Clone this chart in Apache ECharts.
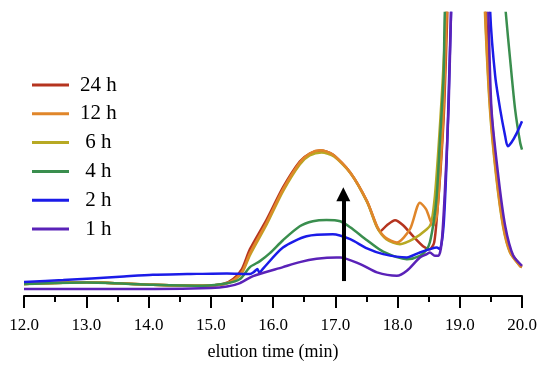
<!DOCTYPE html>
<html>
<head>
<meta charset="utf-8">
<script src="https://cdn.jsdelivr.net/npm/echarts@6/dist/echarts.min.js"></script>
<style>
html,body{margin:0;padding:0;background:#fff;}
#chart{width:550px;height:366px;}
</style>
</head>
<body>
<div id="chart"></div>
<script>
// x: elution time (min), y: detector response (arbitrary units)
const seriesNames = ['24 h', '12 h', '6 h', '4 h', '2 h', '1 h'];
const xTicks = ['12.0','13.0','14.0','15.0','16.0','17.0','18.0','19.0','20.0'];

const h24 = [[12.0,12],[13.01,13.7],[13.54,12.7],[14.07,11.3],[14.88,10.3],[15.20,12],[15.36,17],[15.50,27],[15.63,47],[15.90,77],[16.16,109],[16.43,135],[16.59,143],[16.76,146],[16.96,142],[17.24,124],[17.51,95],[17.66,71],[17.72,65],[17.83,71],[17.96,76],[18.09,71],[18.25,60],[18.41,50],[18.52,47],[18.59,54],[18.64,85],[18.69,125],[18.75,190],[18.80,284],[18.86,400],[19.1,480],[19.37,400],[19.425,284],[19.505,187],[19.605,120],[19.715,70],[19.825,44],[19.97,31],[20.0,30]];
const h12 = [[12.0,12],[13.01,13.7],[13.54,12.7],[14.07,11.3],[14.88,10.3],[15.22,12],[15.38,16.5],[15.51,25],[15.63,43],[15.90,74],[16.16,107],[16.43,134],[16.59,143],[16.76,146.3],[16.96,142],[17.24,124],[17.51,95.3],[17.67,70.3],[17.80,59],[17.99,53.7],[18.20,67],[18.36,93.7],[18.46,87],[18.52,77],[18.57,70.3],[18.63,80],[18.68,120],[18.74,187],[18.79,284],[18.85,400],[19.1,480],[19.35,400],[19.41,284],[19.49,187],[19.59,120],[19.70,70],[19.81,44],[19.97,30],[20.0,29]];
const h6 = [[12.0,12],[13.01,13.7],[13.54,12.7],[14.07,11.3],[14.88,10.3],[15.22,12],[15.38,16],[15.51,24],[15.63,41],[15.90,72],[16.16,105],[16.43,132],[16.59,141],[16.78,144],[16.98,140],[17.26,122],[17.52,93],[17.67,69],[17.82,57],[18.04,52],[18.25,57],[18.47,67],[18.54,73],[18.60,100],[18.66,150],[18.72,210],[18.78,284],[18.84,400],[19.1,480],[19.34,400],[19.405,284],[19.485,187],[19.585,120],[19.695,70],[19.805,44],[19.97,30],[20.0,29]];
const h4 = [[12.0,12],[13.01,13.5],[14.07,11.3],[14.88,10.3],[15.26,12.7],[15.47,17],[15.63,29],[15.79,35],[15.95,43],[16.16,56],[16.43,70],[16.64,75],[16.86,76.3],[17.08,75],[17.24,69],[17.51,56],[17.77,44.5],[18.15,37],[18.36,40.3],[18.47,47],[18.52,54],[18.58,74],[18.63,100.3],[18.68,154],[18.74,220.3],[18.76,284],[18.85,400],[19.2,500],[19.6,400],[19.74,284],[19.81,237],[19.89,187],[19.97,154],[20.0,147]];
const h2 = [[12.0,14],[12.63,16],[13.54,19.3],[14.07,21.3],[14.62,22],[15.26,22.7],[15.63,22],[15.70,24.5],[15.75,27],[15.78,23.5],[15.84,27.5],[16.16,48.7],[16.54,60],[16.96,62],[17.24,57],[17.51,47.7],[17.77,42],[18.15,38.7],[18.36,43.7],[18.52,47],[18.63,48.7],[18.68,47],[18.74,70.3],[18.79,137],[18.83,220.3],[18.86,284],[18.92,400],[19.2,500],[19.45,400],[19.49,284],[19.57,220.3],[19.65,187],[19.73,160.3],[19.77,150.3],[19.83,154],[19.92,164],[20.0,175.3]];
const h1 = [[12.0,7],[13.0,7],[14.1,7],[15.0,8],[15.26,9.5],[15.47,13],[15.68,20],[16.16,29],[16.43,34],[16.70,37.3],[17.02,38.7],[17.08,38.7],[17.40,32],[17.67,23.7],[17.99,20.3],[18.15,25.3],[18.36,38.7],[18.47,42],[18.52,43.7],[18.60,40.3],[18.66,40.3],[18.71,54],[18.76,104],[18.82,187],[18.86,284],[18.92,400],[19.2,500],[19.40,400],[19.46,284],[19.51,187],[19.62,120],[19.73,70.3],[19.86,40.3],[20.0,30.3]];

// arrow annotation: [x, yStart], [x, yEnd]
const arrowStart = [17.13, 15];
const arrowEnd = [17.13, 102];

const colors = {'24 h':'#B5341F','12 h':'#E0862A','6 h':'#B7A923','4 h':'#3A8E4E','2 h':'#1B1BE8','1 h':'#5A22B8'};
const dataByName = {'24 h':h24,'12 h':h12,'6 h':h6,'4 h':h4,'2 h':h2,'1 h':h1};
const drawOrder = ['24 h','6 h','12 h','4 h','2 h','1 h'];

const chart = echarts.init(document.getElementById('chart'), null, {renderer:'canvas'});
const FONT = 'Liberation Serif';

const series = drawOrder.map(n => ({
  name: n,
  type: 'line',
  data: dataByName[n],
  showSymbol: false,
  symbol: 'none',
  smooth: 0.25,
  clip: true,
  lineStyle: {width: 2.5, color: colors[n]},
  itemStyle: {color: colors[n]},
  silent: true
}));
series.push({
  name: 'arrow',
  type: 'line',
  data: [],
  silent: true,
  markLine: {
    silent: true,
    symbol: ['none', 'triangle'],
    symbolSize: 14,
    label: {show: false},
    lineStyle: {color: '#000', width: 4, type: 'solid'},
    itemStyle: {color: '#000'},
    data: [[{coord: arrowStart}, {coord: arrowEnd}]]
  }
});

chart.setOption({
  animation: false,
  backgroundColor: '#fff',
  grid: {left: 24, right: 28, top: 13, bottom: 69, containLabel: false},
  legend: {
    data: seriesNames,
    orient: 'vertical',
    left: 32,
    top: 74.5,
    padding: 0,
    icon: 'rect',
    itemWidth: 37,
    itemHeight: 3,
    itemGap: 7.8,
    selectedMode: false,
    formatter: n => (n.length < 4 ? ' ' : '') + n,
    textStyle: {fontFamily: FONT, fontSize: 21, lineHeight: 21, color: '#000', padding: [0, 0, 0, 6]}
  },
  xAxis: {
    type: 'value',
    min: 12, max: 20, interval: 1,
    name: 'elution time (min)',
    nameLocation: 'middle',
    nameGap: 47,
    nameTextStyle: {fontFamily: FONT, fontSize: 18, color: '#000'},
    axisLine: {show: true, onZero: false, lineStyle: {color: '#000', width: 2}},
    axisTick: {show: true, inside: false, length: 12, lineStyle: {color: '#000', width: 2}},
    minorTick: {show: true, splitNumber: 2, length: 6, lineStyle: {color: '#000', width: 2}},
    splitLine: {show: false},
    axisLabel: {
      margin: 21,
      fontFamily: FONT, fontSize: 17, color: '#000',
      formatter: v => xTicks[Math.round(v - 12)]
    }
  },
  yAxis: {
    type: 'value', min: 0, max: 284, show: false,
    splitLine: {show: false}
  },
  series: series
});
</script>
</body>
</html>
